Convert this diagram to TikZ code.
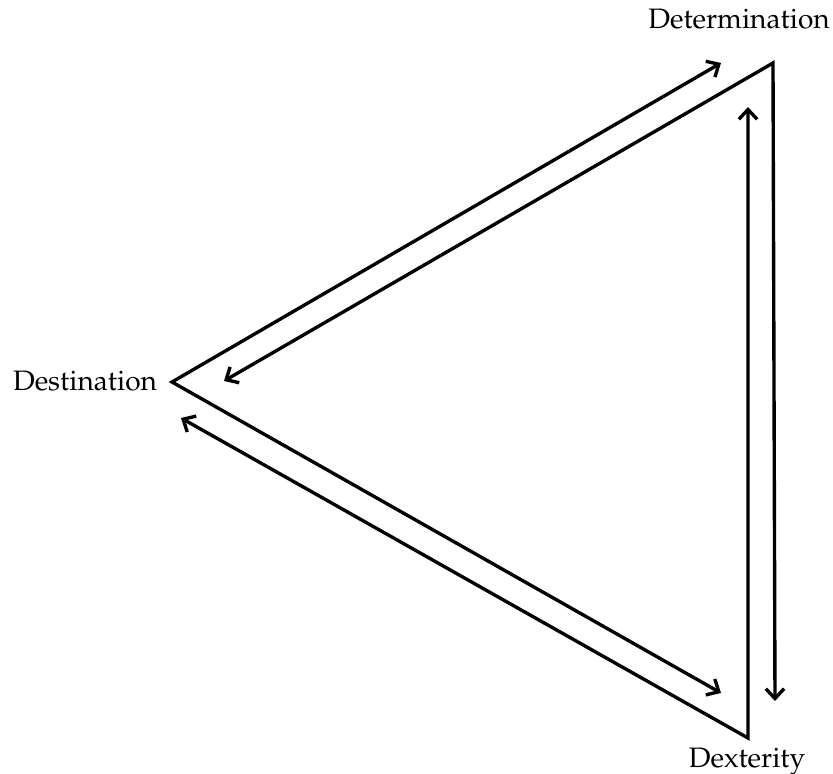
\documentclass[tikz,border=0pt]{standalone}
\usepackage[T1]{fontenc}
\usepackage{mathpazo}
\usetikzlibrary{arrows.meta}
\begin{document}
\begin{tikzpicture}[line width=1.2pt, >={Straight Barb[length=3.5pt,width=6.5pt]}]
\useasboundingbox (0,0) rectangle (10.4125,9.6625);
%
\coordinate (dest) at (2.15,4.8875);
\coordinate (det) at (9.6625,8.875);
\coordinate (dex) at (9.35,0.4375);
%
\node (destlabel) at (1.0625,4.775) [anchor=base] {Destination};
\node (detlabel) at (9.2375,9.3) [anchor=base] {Determination};
\node (dexlabel) at (9.3375,0.0625) [anchor=base] {Dexterity};
%
\coordinate (det-a) at (9.0125,8.875);
\coordinate (dex-a) at (9.0125,1.0);
\coordinate (dest-b) at (2.8,4.9);
\coordinate (dex-b) at (9.6875,0.9);
\coordinate (dest-c) at (2.2625,4.4375);
\coordinate (det-c) at (9.35,8.325);
%
\draw [<->] (det-a) -- (dest) -- (dex-a);
\draw [<->] (dest-b) -- (det) -- (dex-b);
\draw [<->] (dest-c) -- (dex) -- (det-c);
\end{tikzpicture}
\end{document}
